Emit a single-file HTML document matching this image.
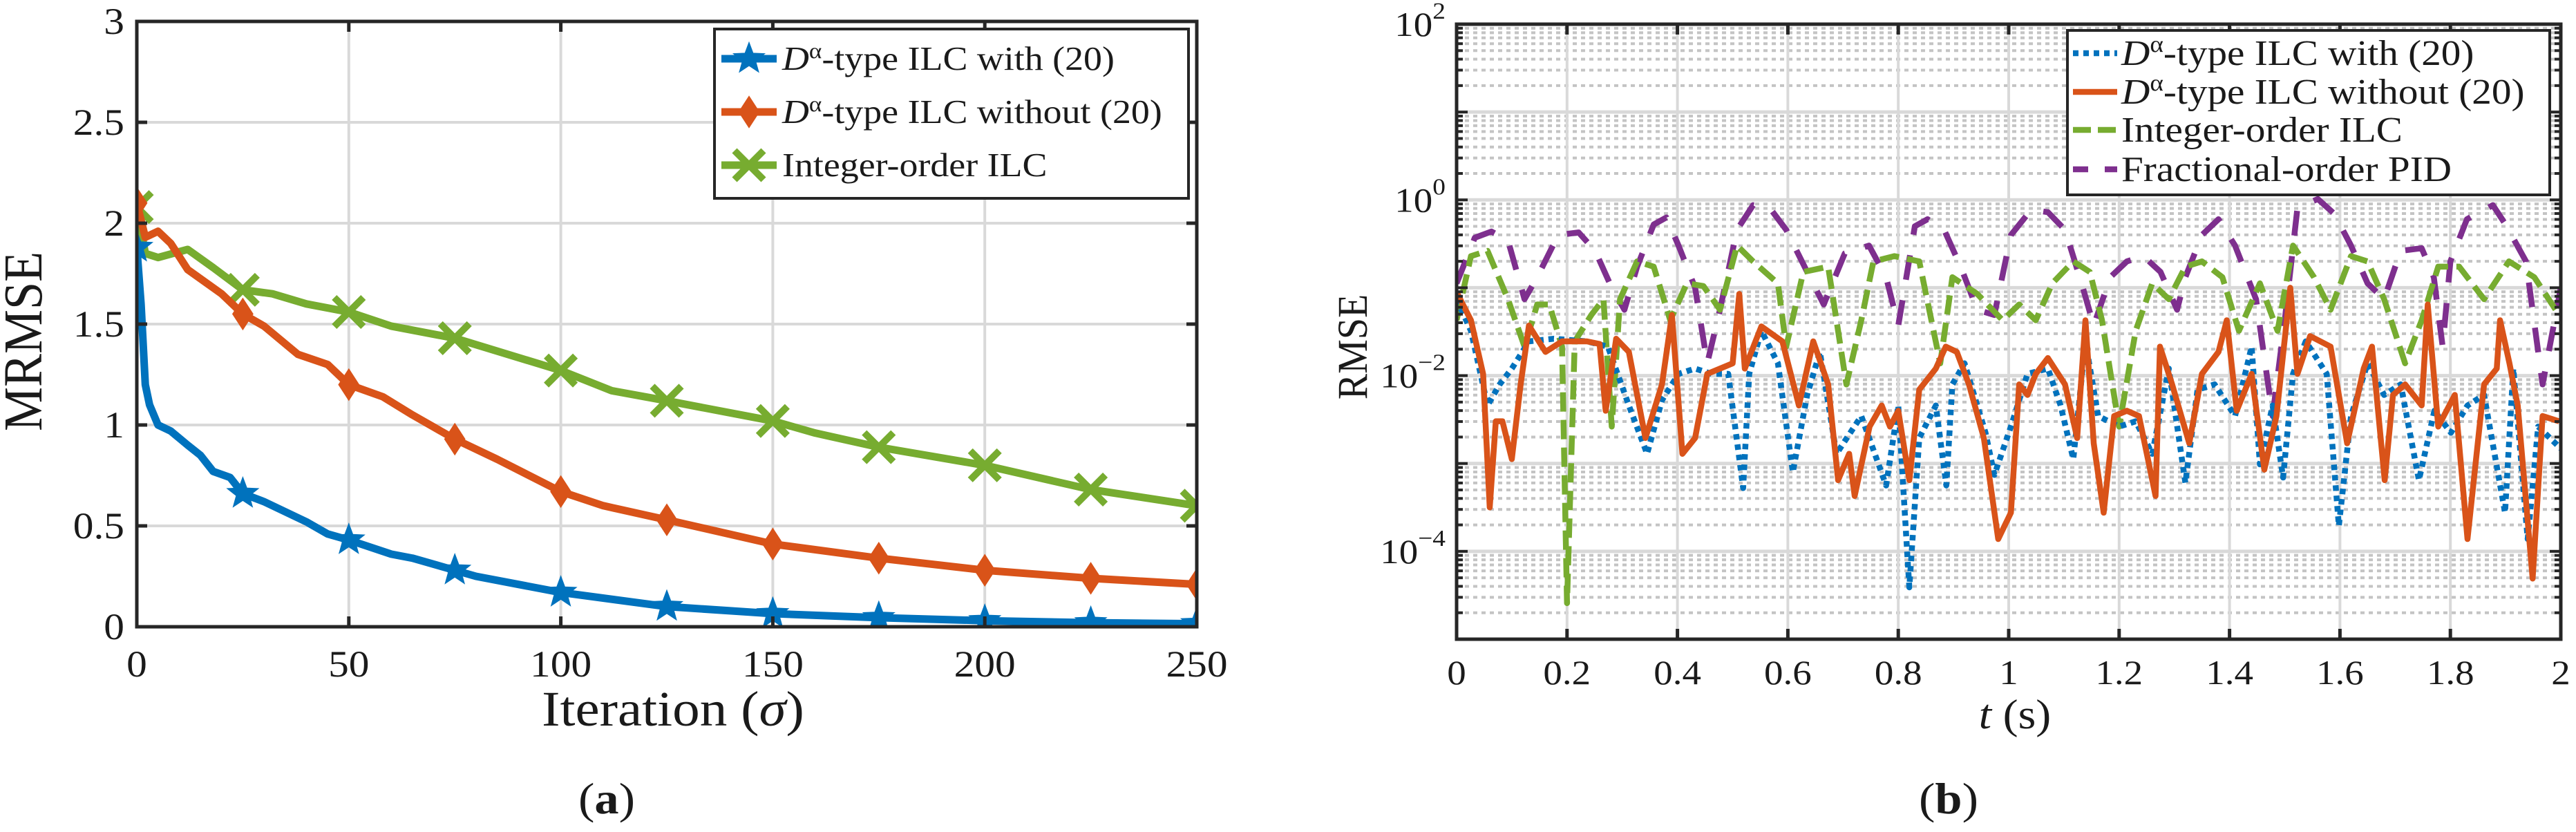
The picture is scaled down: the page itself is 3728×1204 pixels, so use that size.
<!DOCTYPE html>
<html><head><meta charset="utf-8"><style>
html,body{margin:0;padding:0;background:#fff;}
svg{display:block;}
text{font-family:"Liberation Serif",serif;fill:#1a1a1a;}
</style></head><body>
<svg id="fig" width="3728" height="1204" viewBox="0 0 3728 1204" xmlns="http://www.w3.org/2000/svg">
<defs>
<clipPath id="clipB"><rect x="2108" y="35" width="1598" height="890"/></clipPath>
<clipPath id="clipA"><rect x="198" y="31" width="1534" height="876"/></clipPath>
</defs>
<g id="chartA"></g>
<g id="chartB"></g>
</svg>
<script>
// ---------- Chart (a) data ----------
const aXTicks = [0, 50, 100, 150, 200, 250];
const aYTicks = [0, 0.5, 1, 1.5, 2, 2.5, 3];
const aYTickLabels = ["0", "0.5", "1", "1.5", "2", "2.5", "3"];
const withIter = [0,1,2,3,5,8,12,15,18,22,25,30,40,45,50,60,65,75,80,90,100,125,150,175,200,225,250];
const withVal  = [1.88,1.6,1.2,1.1,1.0,0.97,0.9,0.85,0.77,0.74,0.66,0.62,0.52,0.46,0.43,0.36,0.34,0.28,0.25,0.21,0.17,0.10,0.065,0.045,0.03,0.02,0.015];
const withoutIter = [0,2,5,8,12,20,25,30,38,45,50,58,65,75,85,100,110,125,150,175,200,225,250];
const withoutVal  = [2.1,1.93,1.96,1.9,1.77,1.65,1.55,1.49,1.35,1.3,1.2,1.14,1.05,0.93,0.83,0.67,0.6,0.53,0.41,0.34,0.28,0.24,0.21];
const intIter = [0,2,5,12,18,25,32,40,50,60,75,100,112,125,150,160,175,200,225,250];
const intVal  = [2.08,1.85,1.83,1.87,1.78,1.67,1.65,1.6,1.56,1.49,1.43,1.27,1.17,1.12,1.02,0.96,0.89,0.8,0.68,0.6];

// ---------- Chart (b) data (values stored as log10(RMSE)) ----------
const bXTicks = [0,0.2,0.4,0.6,0.8,1,1.2,1.4,1.6,1.8,2];
const bXTickLabels = ["0","0.2","0.4","0.6","0.8","1","1.2","1.4","1.6","1.8","2"];
const bYDecades = [-4,-2,0,2];
const pidT = [0,0.033,0.063,0.093,0.123,0.146,0.184,0.221,0.251,0.281,0.304,0.327,0.357,0.38,0.402,0.432,0.454,0.477,0.508,0.537,0.567,0.597,0.635,0.665,0.703,0.747,0.778,0.8,0.83,0.853,0.883,0.913,0.943,0.974,1.004,1.041,1.071,1.102,1.132,1.154,1.184,1.214,1.244,1.275,1.305,1.32,1.35,1.38,1.41,1.448,1.478,1.5,1.523,1.56,1.59,1.62,1.65,1.68,1.71,1.748,1.77,1.786,1.8,1.83,1.877,1.9,1.937,1.967,2.0];
const pidLog = [-0.95,-0.43,-0.36,-0.46,-1.13,-0.88,-0.40,-0.37,-0.58,-1.0,-1.25,-0.76,-0.28,-0.20,-0.52,-1.0,-1.86,-1.25,-0.34,-0.06,-0.09,-0.34,-0.82,-1.19,-0.61,-0.52,-0.88,-1.43,-0.30,-0.22,-0.34,-0.76,-1.25,-1.31,-0.40,-0.11,-0.14,-0.34,-0.95,-1.43,-0.88,-0.70,-0.64,-0.82,-1.25,-0.88,-0.40,-0.22,-0.52,-1.13,-2.46,-1.37,-0.09,0.01,-0.16,-0.52,-0.95,-1.13,-0.58,-0.55,-0.88,-1.67,-0.70,-0.22,-0.06,-0.28,-0.70,-2.10,-1.0];
const intT = [0,0.026,0.056,0.093,0.123,0.146,0.168,0.191,0.2,0.214,0.244,0.266,0.281,0.296,0.327,0.357,0.387,0.417,0.447,0.477,0.508,0.537,0.582,0.597,0.628,0.673,0.706,0.733,0.755,0.793,0.838,0.876,0.898,0.943,0.989,1.019,1.049,1.079,1.117,1.147,1.169,1.2,1.23,1.26,1.29,1.32,1.35,1.387,1.417,1.455,1.487,1.515,1.553,1.583,1.62,1.65,1.68,1.718,1.748,1.778,1.816,1.861,1.906,1.952,1.997];
const intLog = [-1.37,-0.64,-0.58,-1.13,-1.67,-1.19,-1.19,-1.67,-4.59,-1.61,-1.31,-1.13,-2.58,-1.13,-0.70,-0.76,-1.37,-0.95,-0.98,-1.25,-0.52,-0.70,-0.95,-1.67,-0.82,-0.76,-2.10,-1.37,-0.70,-0.64,-0.70,-1.86,-0.88,-1.07,-1.37,-1.19,-1.37,-0.95,-0.70,-0.82,-1.37,-2.58,-1.49,-0.95,-1.13,-0.76,-0.70,-0.88,-1.49,-0.95,-1.49,-0.52,-0.88,-1.25,-0.64,-0.70,-1.13,-1.86,-1.37,-0.76,-0.76,-1.13,-0.70,-0.88,-1.31];
const woT = [0,0.026,0.048,0.06,0.071,0.083,0.1,0.116,0.131,0.161,0.191,0.236,0.259,0.27,0.289,0.312,0.342,0.372,0.39,0.409,0.432,0.454,0.477,0.5,0.512,0.522,0.552,0.59,0.62,0.646,0.673,0.691,0.711,0.721,0.748,0.77,0.785,0.8,0.82,0.838,0.868,0.886,0.906,0.928,0.955,0.981,1.004,1.019,1.034,1.049,1.071,1.102,1.124,1.139,1.154,1.172,1.191,1.214,1.236,1.266,1.274,1.296,1.327,1.35,1.38,1.395,1.413,1.44,1.463,1.485,1.51,1.523,1.546,1.583,1.613,1.643,1.658,1.681,1.696,1.718,1.748,1.759,1.778,1.808,1.831,1.861,1.884,1.89,1.907,1.922,1.949,1.967,1.997];
const woLog = [-1.05,-1.37,-1.98,-3.50,-2.52,-2.52,-2.95,-2.10,-1.43,-1.73,-1.61,-1.61,-1.64,-2.40,-1.58,-1.73,-2.71,-2.10,-1.31,-2.89,-2.71,-1.98,-1.92,-1.86,-1.07,-1.92,-1.44,-1.61,-2.34,-1.61,-2.10,-3.19,-2.89,-3.37,-2.58,-2.34,-2.58,-2.40,-3.19,-2.16,-1.92,-1.67,-1.73,-2.10,-2.71,-3.86,-3.56,-2.10,-2.22,-1.98,-1.80,-2.10,-2.71,-1.37,-2.77,-3.56,-2.46,-2.40,-2.46,-3.37,-1.67,-2.10,-2.77,-1.98,-1.73,-1.37,-2.40,-1.98,-3.07,-2.46,-1.0,-1.98,-1.55,-1.67,-2.77,-1.92,-1.67,-3.19,-2.22,-2.10,-2.34,-1.19,-2.58,-2.22,-3.86,-2.10,-1.92,-1.37,-1.86,-2.34,-4.31,-2.46,-2.52];
const wT = [0,0.026,0.056,0.078,0.1,0.131,0.176,0.236,0.274,0.312,0.345,0.372,0.402,0.432,0.462,0.492,0.519,0.53,0.552,0.582,0.609,0.635,0.658,0.688,0.733,0.778,0.8,0.82,0.838,0.868,0.887,0.898,0.92,0.958,0.974,1.004,1.034,1.071,1.094,1.117,1.139,1.162,1.2,1.23,1.26,1.29,1.32,1.342,1.373,1.41,1.44,1.455,1.478,1.497,1.515,1.538,1.576,1.598,1.62,1.65,1.68,1.71,1.743,1.771,1.801,1.831,1.861,1.899,1.914,1.94,1.959,2.0];
const wLog = [-1.13,-1.49,-2.34,-2.10,-1.92,-1.61,-1.58,-1.61,-1.67,-2.34,-2.89,-2.28,-1.98,-1.92,-1.98,-1.98,-3.28,-1.98,-1.49,-1.86,-3.10,-2.22,-1.73,-2.89,-2.46,-3.25,-2.34,-4.41,-2.71,-2.34,-3.25,-2.10,-1.86,-2.65,-3.13,-2.58,-1.98,-1.92,-2.34,-2.95,-1.61,-2.46,-2.58,-2.52,-2.89,-1.92,-3.22,-2.16,-2.10,-2.46,-1.67,-3.01,-2.34,-3.16,-1.98,-1.61,-1.98,-3.71,-2.46,-1.86,-2.22,-2.10,-3.19,-2.40,-2.65,-2.34,-2.22,-3.56,-1.92,-3.86,-2.58,-2.83];

const NS = "http://www.w3.org/2000/svg";
const SX = 1.1;
const BLUE = "#0072BD", ORANGE = "#D95319", GREEN = "#77AC30", PURPLE = "#7E2F8E", AX = "#262626", GRID = "#d9d9d9";
function mk(tag, parent, attrs) {
  const e = document.createElementNS(NS, tag);
  for (const k in attrs) e.setAttribute(k, attrs[k]);
  parent.appendChild(e);
  return e;
}
function txt(parent, x, y, str, size, anchor, rot) {
  const t = mk("text", parent, {"font-size": size, "text-anchor": anchor || "start",
    transform: "translate(" + x + "," + y + ") scale(" + SX + ",1)" + (rot ? " rotate(" + rot + ")" : "")});
  t.textContent = str;
  return t;
}

// ---------- chart (a) ----------
const gA = document.getElementById("chartA");
const xa = v => 198 + v / 250 * (1732 - 198);
const ya = v => 907 - v / 3 * (907 - 31);
aXTicks.forEach(v => {
  const l = mk("line", gA, {x1: xa(v), x2: xa(v), y1: 31, y2: 907, stroke: GRID, "stroke-width": 4});
  
  
});
aYTicks.forEach(v => {
  const l = mk("line", gA, {x1: 198, x2: 1732, y1: ya(v), y2: ya(v), stroke: GRID, "stroke-width": 4});
  
  
});
function star(g, cx, cy, r, col) {
  let p = "";
  for (let i = 0; i < 10; i++) {
    const rr = i % 2 ? r * 0.42 : r, a = -Math.PI / 2 + i * Math.PI / 5;
    p += (i ? "L" : "M") + (cx + rr * Math.cos(a)) + "," + (cy + rr * Math.sin(a));
  }
  return mk("path", g, {d: p + "Z", fill: col, stroke: col, "stroke-width": 3});
}
function diamond(g, cx, cy, r, col) {
  return mk("path", g, {d: `M${cx},${cy - r}L${cx + r * 0.65},${cy}L${cx},${cy + r}L${cx - r * 0.65},${cy}Z`, fill: col, stroke: col, "stroke-width": 3});
}
function cross(g, cx, cy, r, col) {
  return mk("path", g, {d: `M${cx - r},${cy - r}L${cx + r},${cy + r}M${cx - r},${cy + r}L${cx + r},${cy - r}`, stroke: col, "stroke-width": 10, fill: "none"});
}
const seriesA = [
  {it: withIter, v: withVal, col: BLUE, m: star, name: "series-with-20"},
  {it: withoutIter, v: withoutVal, col: ORANGE, m: diamond, name: "series-without-20"},
  {it: intIter, v: intVal, col: GREEN, m: cross, name: "series-integer-order"}
];
const clipA = mk("g", gA, {"clip-path": "url(#clipA)"});
seriesA.slice().reverse().forEach(s => {
  const g = mk("g", clipA, {});
  
  
  const d = s.it.map((x, i) => (i ? "L" : "M") + xa(x) + "," + ya(s.v[i])).join("");
  mk("path", g, {d: d, fill: "none", stroke: s.col, "stroke-width": 11, "stroke-linejoin": "round"});
  s.it.forEach((x, i) => {
    if (x % 25 === 0) {
      const mkr = s.m(g, xa(x), ya(s.v[i]), 21, s.col);
      
      
    }
  });
});
mk("rect", gA, {x: 198, y: 31, width: 1534, height: 876, fill: "none", stroke: AX, "stroke-width": 5});
aXTicks.forEach(v => {
  mk("line", gA, {x1: xa(v), x2: xa(v), y1: 907, y2: 892, stroke: AX, "stroke-width": 5});
  mk("line", gA, {x1: xa(v), x2: xa(v), y1: 31, y2: 46, stroke: AX, "stroke-width": 5});
  const t = txt(gA, xa(v), 979, String(v), 54, "middle");
  
  
});
aYTicks.forEach((v, i) => {
  mk("line", gA, {x1: 198, x2: 213, y1: ya(v), y2: ya(v), stroke: AX, "stroke-width": 5});
  mk("line", gA, {x1: 1717, x2: 1732, y1: ya(v), y2: ya(v), stroke: AX, "stroke-width": 5});
  const t = txt(gA, 180, ya(v) + 18, aYTickLabels[i], 54, "end");
  
  
});
let t;
t = txt(gA, 60, 494, "MRMSE", 72, "middle", -90);


t = txt(gA, 974, 1050, "", 72, "middle");
t.innerHTML = 'Iteration (<tspan font-style="italic">σ</tspan>)';


t = txt(gA, 878, 1177, "(a)", 64, "middle");
t.innerHTML = '(<tspan font-weight="bold">a</tspan>)';


// legend a
const legA = mk("g", gA, {});


mk("rect", legA, {x: 1034, y: 42, width: 686, height: 245, fill: "#fff", stroke: AX, "stroke-width": 4});
const legAItems = [
  {y: 85, col: BLUE, m: star, html: '<tspan font-style="italic">D</tspan><tspan font-size="32" dy="-17">α</tspan><tspan dy="17">-type ILC with (20)</tspan>'},
  {y: 162, col: ORANGE, m: diamond, html: '<tspan font-style="italic">D</tspan><tspan font-size="32" dy="-17">α</tspan><tspan dy="17">-type ILC without (20)</tspan>'},
  {y: 239, col: GREEN, m: cross, html: 'Integer-order ILC'}
];
legAItems.forEach(it => {
  const g = mk("g", legA, {});
  
  
  mk("line", g, {x1: 1044, x2: 1124, y1: it.y, y2: it.y, stroke: it.col, "stroke-width": 11});
  it.m(g, 1084, it.y, 21, it.col);
  const tt = txt(g, 1132, it.y + 16, "", 49, "start");
  tt.innerHTML = it.html;
});

// ---------- chart (b) ----------
const gB = document.getElementById("chartB");
const xb = v => 2108 + v / 2 * (3706 - 2108);
const yb = lg => 35 + (2 - lg) / 7 * (925 - 35);
for (let d = -5; d < 2; d++) {
  for (let k = 2; k <= 9; k++) {
    const y = yb(d + Math.log10(k));
    const l = mk("line", gB, {x1: 2108, x2: 3706, y1: y, y2: y, stroke: "#c4c4c4", "stroke-width": 4, "stroke-dasharray": "6,6"});
    
    
  }
}
for (let d = -5; d <= 2; d++) {
  const l = mk("line", gB, {x1: 2108, x2: 3706, y1: yb(d), y2: yb(d), stroke: GRID, "stroke-width": 5});
  
  
}
bXTicks.forEach(v => {
  const l = mk("line", gB, {x1: xb(v), x2: xb(v), y1: 35, y2: 925, stroke: GRID, "stroke-width": 4});
  
  
});
const clipB = mk("g", gB, {"clip-path": "url(#clipB)"});
const seriesB = [
  {t: pidT, v: pidLog, col: PURPLE, dash: "36,30", name: "series-fractional-pid"},
  {t: intT, v: intLog, col: GREEN, dash: "28,12", name: "series-integer-order"},
  {t: wT, v: wLog, col: BLUE, dash: "8,7", name: "series-with-20"},
  {t: woT, v: woLog, col: ORANGE, dash: "none", name: "series-without-20"}
];
seriesB.forEach(s => {
  const d = s.t.map((x, i) => (i ? "L" : "M") + xb(x) + "," + yb(s.v[i])).join("");
  const p = mk("path", clipB, {d: d, fill: "none", stroke: s.col, "stroke-width": 8.5, "stroke-dasharray": s.dash, "stroke-linejoin": "round"});
  
  
});
mk("rect", gB, {x: 2108, y: 35, width: 1598, height: 890, fill: "none", stroke: AX, "stroke-width": 5});
bXTicks.forEach((v, i) => {
  mk("line", gB, {x1: xb(v), x2: xb(v), y1: 925, y2: 910, stroke: AX, "stroke-width": 5});
  mk("line", gB, {x1: xb(v), x2: xb(v), y1: 35, y2: 50, stroke: AX, "stroke-width": 5});
  const tt = txt(gB, xb(v), 990, bXTickLabels[i], 50, "middle");
  
  
});
for (let d = -5; d <= 2; d++) {
  for (let k = 1; k <= 9; k++) {
    const lg = d + Math.log10(k);
    if (lg > 2) continue;
    const len = k === 1 ? 16 : 9;
    mk("line", gB, {x1: 2108, x2: 2108 + len, y1: yb(lg), y2: yb(lg), stroke: AX, "stroke-width": 4});
    mk("line", gB, {x1: 3706 - len, x2: 3706, y1: yb(lg), y2: yb(lg), stroke: AX, "stroke-width": 4});
  }
}
bYDecades.forEach(d => {
  const tt = txt(gB, 2092, yb(d) + 17, "", 50, "end");
  tt.innerHTML = '10<tspan font-size="34" dy="-25">' + (d < 0 ? "−" + (-d) : d) + '</tspan>';
  
  
});
t = txt(gB, 1978, 502, "RMSE", 56, "middle", -90);


t = txt(gB, 2916, 1054, "", 60, "middle");
t.innerHTML = '<tspan font-style="italic">t</tspan> (s)';


t = txt(gB, 2820, 1177, "", 64, "middle");
t.innerHTML = '(<tspan font-weight="bold">b</tspan>)';


const legB = mk("g", gB, {});


mk("rect", legB, {x: 2992, y: 44, width: 698, height: 238, fill: "#fff", stroke: AX, "stroke-width": 4});
const legBItems = [
  {y: 77, col: BLUE, dash: "8,7", html: '<tspan font-style="italic">D</tspan><tspan font-size="34" dy="-19">α</tspan><tspan dy="19">-type ILC with (20)</tspan>'},
  {y: 133, col: ORANGE, dash: "none", html: '<tspan font-style="italic">D</tspan><tspan font-size="34" dy="-19">α</tspan><tspan dy="19">-type ILC without (20)</tspan>'},
  {y: 188, col: GREEN, dash: "26,10", html: 'Integer-order ILC'},
  {y: 245, col: PURPLE, dash: "22,24", html: 'Fractional-order PID'}
];
legBItems.forEach(it => {
  const g = mk("g", legB, {});
  
  
  mk("line", g, {x1: 3000, x2: 3064, y1: it.y, y2: it.y, stroke: it.col, "stroke-width": 8.5, "stroke-dasharray": it.dash});
  const tt = txt(g, 3070, it.y + 17, "", 52, "start");
  tt.innerHTML = it.html;
});
</script>
</body></html>
